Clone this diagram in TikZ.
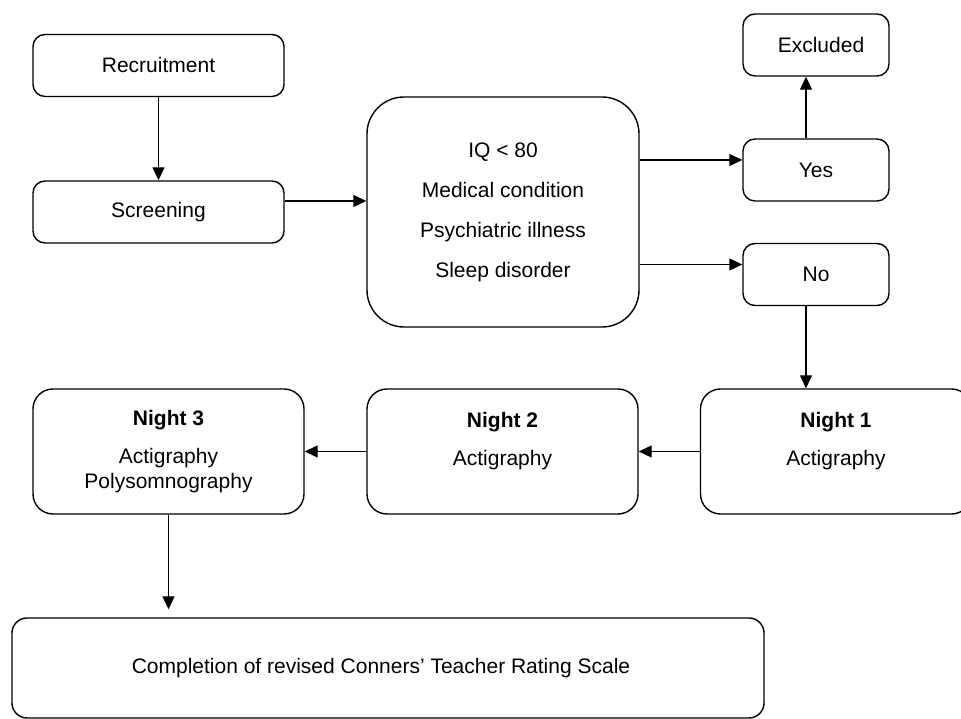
\documentclass[tikz,border=0pt]{standalone}
\usepackage{fontspec}
\setmainfont{Liberation Sans}
\usetikzlibrary{arrows.meta}

\begin{document}
\begin{tikzpicture}[
  x=1pt, y=1pt,
  box/.style={rectangle, draw, line width=1.4pt, rounded corners=12pt, minimum width=251pt, minimum height=62pt, align=center, inner sep=0pt},
  smallbox/.style={box, minimum width=146pt},
  bigbox/.style={box, rounded corners=20pt, minimum width=271pt, minimum height=125pt},
  flow/.style={-{Triangle[length=13pt,width=12pt]}, line width=1.2pt},
  font=\fontsize{21}{25}\selectfont
]
\useasboundingbox (0,0) rectangle (961,719);

\node[box] (recruit) at (158.5,653.5) {Recruitment};
\node[box, below of=recruit, node distance=146.5pt] (screen) {Screening};
\node[box, right of=screen, node distance=344.5pt, minimum width=272pt, minimum height=230pt, rounded corners=37pt] (crit) {IQ < 80\\[15pt]Medical condition\\[15pt]Psychiatric illness\\[15pt]Sleep disorder};
\node[smallbox, right of=crit, node distance=313pt, yshift=42pt] (yes) {Yes};
\node[smallbox, above of=yes, node distance=125pt] (excl) {\hspace{10pt}Excluded};
\node[smallbox, below of=yes, node distance=104.5pt] (no) {No};

\node[bigbox, below of=no, node distance=177pt, xshift=20pt] (night1) {\textbf{Night 1}\\[13pt]Actigraphy\\\mbox{}};
\node[bigbox, left of=night1, node distance=333.5pt] (night2) {\textbf{Night 2}\\[13pt]Actigraphy\\\mbox{}};
\node[bigbox, left of=night2, node distance=334pt] (night3) {\textbf{Night 3}\\[13pt]Actigraphy\\Polysomnography};
\node[box, rounded corners=15pt, minimum width=752pt, minimum height=100pt, below of=night3, node distance=216.5pt, xshift=219.5pt] (teacher) {\hspace{-14pt}Completion of revised Conners’ Teacher Rating Scale};

\draw[flow] (recruit) -- (screen);
\draw[flow] ([yshift=11pt]screen.east) -- ([yshift=11pt]screen.east -| crit.west);
\draw[flow] ([yshift=10pt]yes.west -| crit.east) -- ([yshift=10pt]yes.west);
\draw[flow] ([yshift=10pt]no.west -| crit.east) -- ([yshift=10pt]no.west);
\draw[flow] ([xshift=-10pt]yes.north) -- ([xshift=-10pt]excl.south);
\draw[flow] ([xshift=-10pt]no.south) -- ([xshift=-10pt]no.south |- night1.north);
\draw[flow] (night1) -- (night2);
\draw[flow] (night2) -- (night3);
\draw[flow, shorten >=8pt] (night3) -- (night3 |- teacher.north);
\end{tikzpicture}
\end{document}
